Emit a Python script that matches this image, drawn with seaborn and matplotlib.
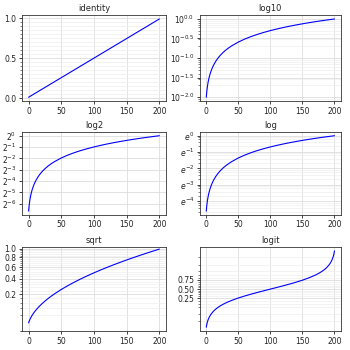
import numpy as np
import pandas as pd
import matplotlib
matplotlib.use("Agg")
import matplotlib.pyplot as plt
import matplotlib.ticker as mticker
import seaborn as sns

# data (a linear ramp from 0.01 to 0.99)
x_values = [0, 1, 2, 3, 4, 5, 6, 8, 10, 12, 15, 18, 22, 26, 30, 35, 40, 50, 60, 70,
            80, 90, 100, 110, 120, 130, 140, 150, 160, 170, 175, 180, 184, 188, 191,
            194, 196, 198, 199, 200]
y_values = [0.0100, 0.0149, 0.0198, 0.0247, 0.0296, 0.0345, 0.0394, 0.0492, 0.0590,
            0.0688, 0.0835, 0.0982, 0.1178, 0.1374, 0.1570, 0.1815, 0.2060, 0.2550,
            0.3040, 0.3530, 0.4020, 0.4510, 0.5000, 0.5490, 0.5980, 0.6470, 0.6960,
            0.7450, 0.7940, 0.8430, 0.8675, 0.8920, 0.9116, 0.9312, 0.9459, 0.9606,
            0.9704, 0.9802, 0.9851, 0.9900]

titles = ["identity", "log10", "log2", "log", "sqrt", "logit"]
x_ticks = [0, 50, 100, 150, 200]
identity_ticks = [0.0, 0.5, 1.0]
log10_exps = [-2.0, -1.5, -1.0, -0.5, 0.0]
log2_exps = [-6, -5, -4, -3, -2, -1, 0]
ln_exps = [-4, -3, -2, -1, 0]
sqrt_ticks = [0.2, 0.4, 0.6, 0.8, 1.0]
logit_ticks = [0.25, 0.50, 0.75]

df = pd.DataFrame({"x": x_values, "y": y_values})

sns.set_style("ticks")
plt.rcParams["font.family"] = ["DejaVu Sans"]

fig = plt.figure(figsize=(3.5, 3.5), dpi=100)
lefts = [0.063, 0.571]
widths = [0.411, 0.403]
rows = [(0.711, 0.246), (0.386, 0.237), (0.054, 0.240)]
axes = []
for r, (b, h) in enumerate(rows):
    for c in range(2):
        axes.append(fig.add_axes([lefts[c], b, widths[c], h]))

for ax, title in zip(axes, titles):
    sns.lineplot(data=df, x="x", y="y", ax=ax, color="blue", linewidth=0.8)
    ax.set_title(title, fontsize=6, pad=3)
    ax.set_xlabel("")
    ax.set_ylabel("")

# identity
ax = axes[0]
ax.yaxis.set_major_locator(mticker.FixedLocator(identity_ticks))
ax.yaxis.set_major_formatter(mticker.FormatStrFormatter("%.1f"))
ax.yaxis.set_minor_locator(mticker.AutoMinorLocator(10))

# log10
ax = axes[1]
ax.set_yscale("log", base=10)
ax.yaxis.set_major_locator(mticker.FixedLocator([10 ** e for e in log10_exps]))
ax.yaxis.set_major_formatter(mticker.FixedFormatter(
    [r"$10^{%.1f}$" % e for e in log10_exps]))
ax.yaxis.set_minor_locator(mticker.LogLocator(base=10, subs=np.arange(2, 10)))

# log2
ax = axes[2]
ax.set_yscale("log", base=2)
ax.yaxis.set_major_locator(mticker.FixedLocator([2.0 ** e for e in log2_exps]))
ax.yaxis.set_major_formatter(mticker.FixedFormatter(
    [r"$2^{%d}$" % e for e in log2_exps]))
ax.yaxis.set_minor_locator(mticker.LogLocator(base=2, subs=[1.25, 1.5, 1.75]))

# natural log
ax = axes[3]
ax.set_yscale("log", base=np.e)
ax.yaxis.set_major_locator(mticker.FixedLocator([np.e ** e for e in ln_exps]))
ax.yaxis.set_major_formatter(mticker.FixedFormatter(
    [r"$e^{%d}$" % e for e in ln_exps]))
ax.yaxis.set_minor_locator(mticker.LogLocator(base=np.e, subs=[1.4, 1.8, 2.2, 2.5]))

# sqrt
ax = axes[4]
ax.set_yscale("function", functions=(lambda v: np.sqrt(np.clip(v, 0, None)),
                                     lambda v: np.square(v)))
ax.yaxis.set_major_locator(mticker.FixedLocator(sqrt_ticks))
ax.yaxis.set_major_formatter(mticker.FormatStrFormatter("%.1f"))
ax.yaxis.set_minor_locator(mticker.AutoMinorLocator(5))

# logit
ax = axes[5]
ax.set_yscale("logit")
ax.yaxis.set_major_locator(mticker.FixedLocator(logit_ticks))
ax.yaxis.set_major_formatter(mticker.FormatStrFormatter("%.2f"))
ax.yaxis.set_minor_locator(mticker.FixedLocator(
    [0.02, 0.05, 0.1, 0.15, 0.2, 0.3, 0.35, 0.4, 0.45, 0.55, 0.6, 0.65, 0.7,
     0.8, 0.85, 0.9, 0.95, 0.98]))

for ax in axes:
    ax.set_xticks(x_ticks)
    ax.yaxis.set_minor_formatter(mticker.NullFormatter())
    ax.tick_params(axis="both", which="major", labelsize=5.5, length=2.5,
                   width=0.6, pad=1.5, colors="#222222")
    ax.tick_params(axis="y", which="minor", length=1.5, width=0.4, colors="#222222")
    ax.grid(True, which="major", color="#dddddd", linewidth=0.6)
    ax.grid(True, which="minor", axis="y", color="#eeeeee", linewidth=0.5)
    ax.set_axisbelow(True)
    for s in ax.spines.values():
        s.set_visible(True)
        s.set_linewidth(0.6)
        s.set_color("#333333")

fig.savefig("out.png", dpi=100)
